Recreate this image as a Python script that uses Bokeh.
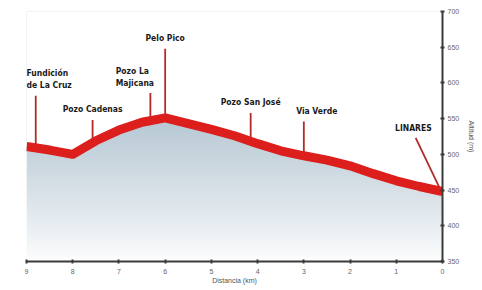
import numpy as np
from bokeh.plotting import figure
from bokeh.models import Range1d, LinearAxis, FixedTicker, Label
from bokeh.embed import file_html
from bokeh.resources import INLINE

# ---- data ----
dist_km = [9, 8.5, 8, 7.5, 7, 6.5, 6, 5.5, 5, 4.5, 4, 3.5, 3, 2.5, 2, 1.5, 1, 0.5, 0]
elev_m = [511, 506, 500, 519, 534, 545, 551, 543, 535, 526, 515, 505, 498, 492, 484, 473, 463, 455, 448]

x_ticks = [9, 8, 7, 6, 5, 4, 3, 2, 1, 0]
y_ticks = [350, 400, 450, 500, 550, 600, 650, 700]

place_names = ["Fundición\nde La Cruz", "Pozo Cadenas", "Pozo La\nMajicana", "Pelo Pico",
               "Pozo San José", "Via Verde", "LINARES"]
place_km = [8.8, 7.57, 6.32, 6.0, 4.15, 3.0, 0.03]
# label anchor (km, elevation) and leader-line top elevation
label_km = [9.0, 7.57, 7.07, 6.0, 4.15, 2.72, 0.63]
label_el = [606, 564, 608, 663, 573, 561, 537]
leader_top_km = [8.8, 7.57, 6.32, 6.0, 4.15, 3.0, 0.58]
leader_top_el = [582, 548, 586, 648, 558, 546, 523]
label_align = ["left", "center", "left", "center", "center", "center", "center"]

FONT = "DejaVu Sans Condensed"

p = figure(width=482, height=288, output_backend="svg", toolbar_location=None,
           x_range=Range1d(9, 0), y_range=Range1d(350, 700),
           min_border_left=26, min_border_top=11, min_border_right=40, min_border_bottom=27)
p.outline_line_color = None
p.xgrid.visible = False
p.ygrid.visible = False
p.yaxis.visible = False
p.background_fill_color = "white"
p.border_fill_color = "white"

# gradient fill (image) masked above the profile
n = 200
rows = np.linspace(350, 700, n)
top_c = np.array([180, 198, 210])
bot_c = np.array([255, 255, 255])
t = np.clip((rows - 350) / (560 - 350), 0, 1) ** 0.85
cols = bot_c[None, :] * (1 - t[:, None]) + top_c[None, :] * t[:, None]
img = np.empty((n, 2), dtype=np.uint32)
view = img.view(dtype=np.uint8).reshape((n, 2, 4))
for j in range(2):
    view[:, j, 0] = cols[:, 0].astype(np.uint8)
    view[:, j, 1] = cols[:, 1].astype(np.uint8)
    view[:, j, 2] = cols[:, 2].astype(np.uint8)
    view[:, j, 3] = 255
p.image_rgba(image=[img], x=0, y=350, dw=9, dh=350)
p.varea(x=dist_km, y1=elev_m, y2=[700] * len(dist_km), fill_color="white")

# leader lines
base_el = list(np.interp(place_km[::-1], dist_km[::-1], elev_m[::-1]))[::-1]
p.segment(x0=place_km, y0=base_el, x1=leader_top_km, y1=leader_top_el,
          line_color="#b02c28", line_width=1.8)

# profile line
p.line(dist_km, elev_m, line_color="#dc1e1c", line_width=9, line_join="round", line_cap="butt")

for name, xk, yel, al in zip(place_names, label_km, label_el, label_align):
    p.add_layout(Label(x=xk, y=yel, text=name, text_font=FONT, text_font_style="bold",
                       text_font_size="8.5px", text_align=al, text_baseline="middle",
                       text_color="#1a1a1a", text_line_height=1.2))

# axes
xa = p.xaxis[0]
xa.ticker = FixedTicker(ticks=x_ticks)
xa.axis_label = "Distancia (km)"
ya = LinearAxis(ticker=FixedTicker(ticks=y_ticks), axis_label="Altitud (m)")
p.add_layout(ya, "right")
for ax in (xa, ya):
    ax.axis_line_color = "#3a3a3a"
    ax.axis_line_width = 2
    ax.major_tick_line_color = "#3a3a3a"
    ax.major_tick_line_width = 2
    ax.major_tick_in = 2
    ax.major_tick_out = 2
    ax.minor_tick_line_color = None
    ax.major_label_text_font = "Liberation Sans"
    ax.major_label_text_font_size = "7px"
    ax.major_label_text_color = "#666666"
    ax.axis_label_text_font = "Liberation Sans"
    ax.axis_label_text_font_size = "7px"
    ax.axis_label_text_font_style = "normal"
    ax.axis_label_text_color = "#555555"
xa.major_label_standoff = 5
xa.axis_label_standoff = 0
ya.major_label_standoff = 3
ya.axis_label_standoff = 6

open("out.html", "w").write(file_html(p, INLINE))
